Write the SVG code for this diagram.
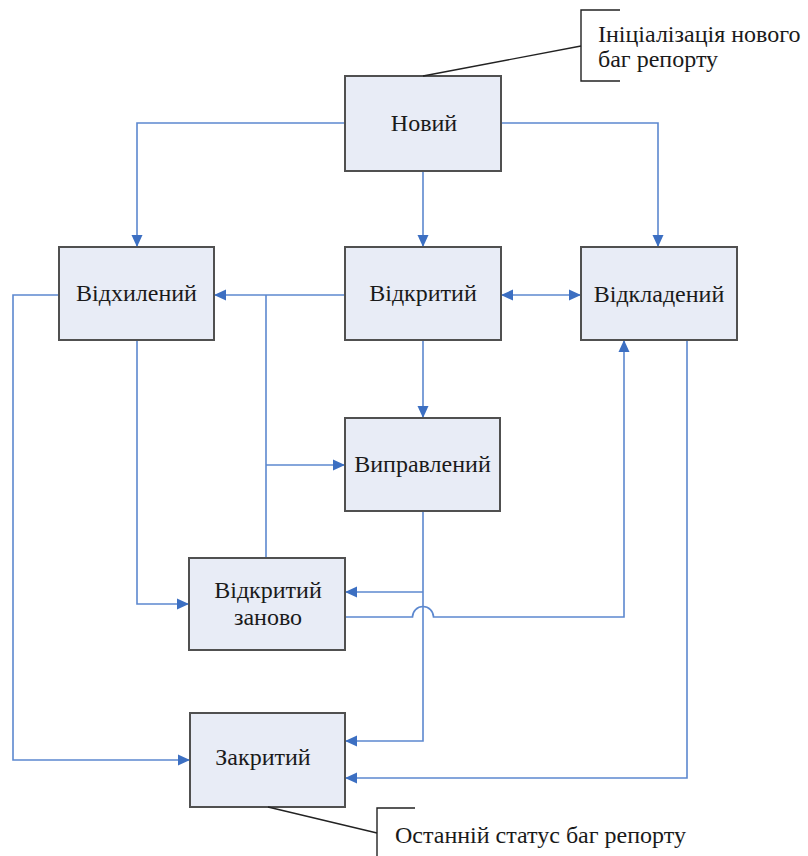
<svg xmlns="http://www.w3.org/2000/svg" width="808" height="856" viewBox="0 0 808 856">
<style>
.box{fill:#E8ECF6;stroke:#505050;stroke-width:2}
.lbl{font-family:"Liberation Serif","Times New Roman",serif;font-size:24px;fill:#1a1a1a;text-anchor:middle}
.note{font-family:"Liberation Serif","Times New Roman",serif;font-size:24px;fill:#1a1a1a}
.c{fill:none;stroke:#5C88CF;stroke-width:1.6}
.ann{fill:none;stroke:#222;stroke-width:1.4}
</style>
<defs>
<marker id="ah" markerUnits="userSpaceOnUse" markerWidth="14" markerHeight="14" viewBox="0 0 14 14" refX="13" refY="7" orient="auto-start-reverse">
<path d="M1,1.5 L13,7 L1,12.5 Z" fill="#3C6FC2"/>
</marker>
</defs>
<rect width="808" height="856" fill="#fff"/>
<g id="connectors">
<path class="c" d="M345,123 H137 V247" marker-end="url(#ah)"/>
<path class="c" d="M423,171 V247" marker-end="url(#ah)"/>
<path class="c" d="M501,123 H658 V247" marker-end="url(#ah)"/>
<path class="c" d="M345,295 H214" marker-end="url(#ah)"/>
<path class="c" d="M266,558 V295"/>
<path class="c" d="M266,465 H345" marker-end="url(#ah)"/>
<path class="c" d="M501,295 H581" marker-start="url(#ah)" marker-end="url(#ah)"/>
<path class="c" d="M423,340 V418" marker-end="url(#ah)"/>
<path class="c" d="M137,340 V604 H189" marker-end="url(#ah)"/>
<path class="c" d="M59,295 H13 V760 H190" marker-end="url(#ah)"/>
<path class="c" d="M423,511 V741 H345" marker-end="url(#ah)"/>
<path class="c" d="M423,592 H345" marker-end="url(#ah)"/>
<path class="c" d="M345,617 H412.5 A10.5,10.5 0 0 1 433.5,617 H624 V340" marker-end="url(#ah)"/>
<path class="c" d="M687,340 V778 H345" marker-end="url(#ah)"/>
</g>
<g id="node-new">
<rect class="box" x="345" y="76" width="156" height="95"/>
<text class="lbl" x="424" y="131">Новий</text>
</g>
<g id="node-rejected">
<rect class="box" x="59" y="247" width="155" height="93"/>
<text class="lbl" x="136.5" y="301">Відхилений</text>
</g>
<g id="node-open">
<rect class="box" x="345" y="247" width="156" height="93"/>
<text class="lbl" x="423" y="301">Відкритий</text>
</g>
<g id="node-deferred">
<rect class="box" x="581" y="247" width="156" height="93"/>
<text class="lbl" x="659" y="302">Відкладений</text>
</g>
<g id="node-fixed">
<rect class="box" x="345" y="418" width="155" height="93"/>
<text class="lbl" x="422.5" y="472">Виправлений</text>
</g>
<g id="node-reopened">
<rect class="box" x="189" y="558" width="156" height="92"/>
<text class="lbl" x="268" y="598">Відкритий</text>
<text class="lbl" x="268" y="625">заново</text>
</g>
<g id="node-closed">
<rect class="box" x="190" y="713" width="155" height="94"/>
<text class="lbl" x="263" y="765">Закритий</text>
</g>
<g id="note-init">
<path class="ann" d="M423,76 L581,46"/>
<path class="ann" d="M620,10 H581 V81 H620"/>
<text class="note" x="598" y="42">Ініціалізація нового</text>
<text class="note" x="598" y="67">баг репорту</text>
</g>
<g id="note-final">
<path class="ann" d="M268,807 L377,833"/>
<path class="ann" d="M415,808 H377 V856"/>
<text class="note" x="395" y="843">Останній статус баг репорту</text>
</g>
</svg>
